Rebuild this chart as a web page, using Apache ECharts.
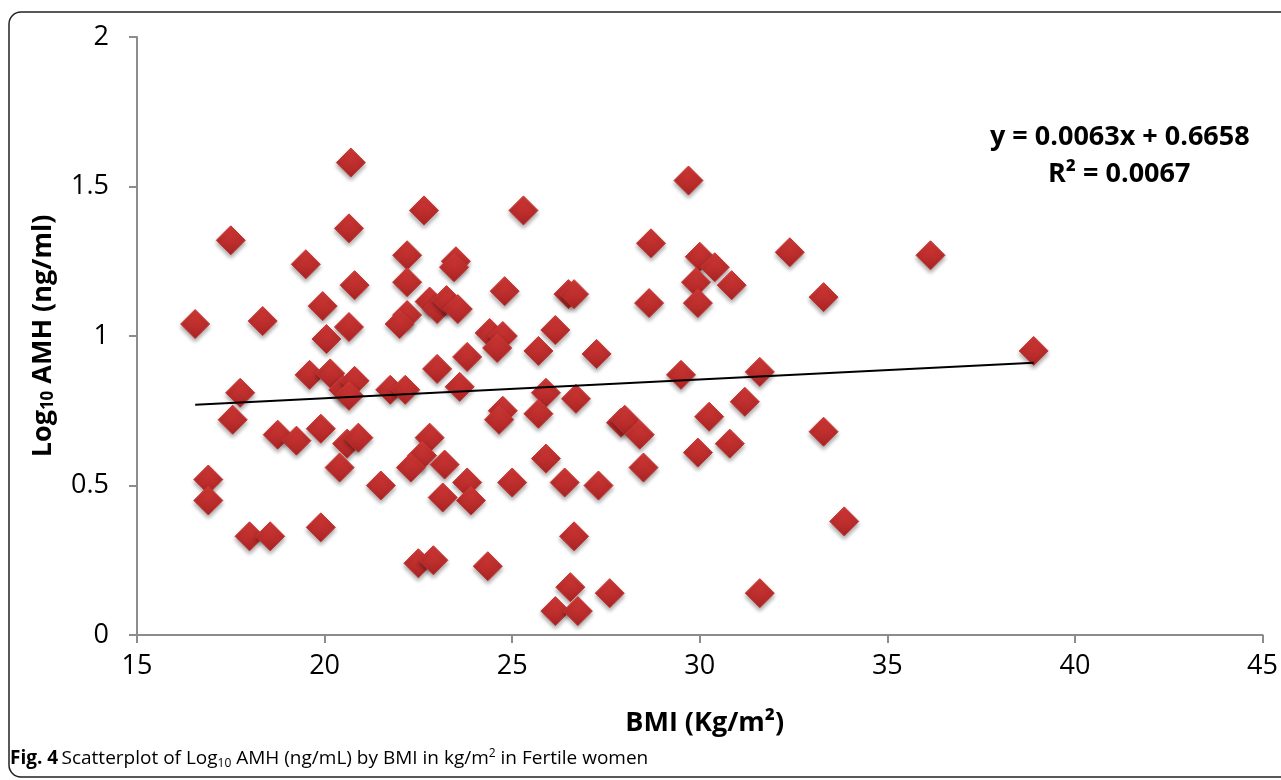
<!DOCTYPE html>
<html>
<head>
<meta charset="utf-8">
<title>Log10 AMH by BMI</title>
<script src="https://cdn.jsdelivr.net/npm/echarts@6/dist/echarts.min.js"></script>
<style>
  html, body { margin: 0; padding: 0; background: #fff; }
  #main { width: 1281px; height: 780px; }
</style>
</head>
<body>
<div id="main"></div>
<script>
// BMI (kg/m2) values
var bmi = [20.7, 29.7, 17.5, 22.65, 25.3, 20.65, 28.7, 32.4, 36.15, 19.5,
  22.2, 23.5, 23.45, 20.8, 22.2, 24.8, 19.95, 22.8, 23.0, 23.25,
  23.55, 22.2, 22.0, 16.55, 18.35, 20.65, 20.05, 24.4, 24.75, 24.6,
  23.0, 23.8, 23.6, 17.75, 19.6, 20.15, 20.5, 20.8, 20.65, 21.75,
  22.15, 17.55, 24.75, 24.65, 18.75, 19.25, 19.9, 20.6, 20.9, 20.4,
  22.8, 22.6, 22.3, 23.2, 23.8, 23.9, 23.15, 25.0, 21.5, 16.9,
  16.9, 18.0, 18.55, 19.9, 22.5, 22.9, 24.35, 29.5, 30.0, 30.4,
  29.9, 30.85, 29.95, 28.65, 33.3, 26.5, 26.65, 26.15, 25.7, 27.25,
  31.6, 25.9, 26.7, 25.7, 27.9, 28.0, 28.4, 30.25, 31.2, 29.95,
  30.8, 33.3, 25.9, 28.5, 26.4, 27.3, 33.85, 26.65, 26.55, 27.6,
  26.15, 26.75, 31.6, 38.9];
// Log10 AMH (ng/ml)
var logAmh = [1.58, 1.52, 1.32, 1.42, 1.42, 1.36, 1.31, 1.28, 1.27, 1.24,
  1.27, 1.25, 1.23, 1.17, 1.18, 1.15, 1.10, 1.115, 1.09, 1.12,
  1.09, 1.07, 1.04, 1.04, 1.05, 1.03, 0.99, 1.01, 1.0, 0.96,
  0.89, 0.93, 0.83, 0.81, 0.87, 0.875, 0.82, 0.85, 0.80, 0.82,
  0.82, 0.72, 0.75, 0.72, 0.67, 0.65, 0.69, 0.64, 0.66, 0.56,
  0.66, 0.60, 0.56, 0.57, 0.51, 0.45, 0.46, 0.51, 0.50, 0.52,
  0.45, 0.33, 0.33, 0.36, 0.24, 0.25, 0.23, 0.87, 1.265, 1.23,
  1.18, 1.17, 1.11, 1.11, 1.13, 1.14, 1.14, 1.02, 0.95, 0.94,
  0.88, 0.81, 0.79, 0.74, 0.71, 0.72, 0.67, 0.73, 0.78, 0.61,
  0.64, 0.68, 0.59, 0.56, 0.51, 0.50, 0.38, 0.33, 0.16, 0.14,
  0.08, 0.08, 0.14, 0.95];
// linear trend: slope, intercept
var trendCoef = [0.0063, 0.6658];
var xTicks = [15, 45, 5];   // min, max, step
var yTicks = [0, 2, 0.5];

var fontMain = "'Open Sans', sans-serif";

var points = bmi.map(function (x, i) { return [x, logAmh[i]]; });
var xMin = Math.min.apply(null, bmi), xMax = Math.max.apply(null, bmi);
var trendLine = [xMin, xMax].map(function (x) {
  return [x, trendCoef[0] * x + trendCoef[1]];
});

var myChart = echarts.init(document.getElementById('main'));

var option = {
  animation: false,
  grid: { left: 137, right: 18, top: 37, bottom: 145 },
  xAxis: {
    type: 'value',
    min: xTicks[0], max: xTicks[1], interval: xTicks[2],
    name: 'BMI (Kg/m²)',
    nameLocation: 'middle',
    nameGap: 75,
    nameTextStyle: { fontFamily: fontMain, fontWeight: 'bold', fontSize: 27, color: '#000', padding: [0, 0, 0, 10] },
    axisLine: { onZero: false, lineStyle: { color: '#8c8c8c', width: 2 } },
    axisTick: { show: true, length: 8, lineStyle: { color: '#8c8c8c', width: 2 } },
    axisLabel: { fontFamily: fontMain, fontSize: 27, color: '#000', margin: 18 },
    splitLine: { show: false }
  },
  yAxis: {
    type: 'value',
    min: yTicks[0], max: yTicks[1], interval: yTicks[2],
    name: '{b|Log}{s|10}{b| AMH (ng/ml)}',
    nameLocation: 'middle',
    nameGap: 80,
    nameRotate: 90,
    nameTextStyle: {
      rich: {
        b: { fontFamily: fontMain, fontWeight: 'bold', fontSize: 27, color: '#000' },
        s: { fontFamily: fontMain, fontWeight: 'bold', fontSize: 17, color: '#000', padding: [10, 0, 0, 0] }
      }
    },
    axisLine: { show: true, lineStyle: { color: '#8c8c8c', width: 2 } },
    axisTick: { show: true, length: 8, lineStyle: { color: '#8c8c8c', width: 2 } },
    axisLabel: {
      fontFamily: fontMain, fontSize: 27, color: '#000', margin: 28,
      formatter: function (v) { return String(v); }
    },
    splitLine: { show: false }
  },
  series: [
    {
      type: 'scatter',
      data: points,
      symbol: 'diamond',
      symbolSize: 29,
      itemStyle: {
        color: new echarts.graphic.LinearGradient(0, 0, 0, 1, [
          { offset: 0, color: '#d63a37' },
          { offset: 1, color: '#a82424' }
        ]),
        borderColor: '#c43331',
        borderWidth: 1,
        shadowBlur: 4,
        shadowOffsetY: 3,
        shadowColor: 'rgba(0,0,0,0.35)',
        opacity: 1
      },
      z: 2
    },
    {
      type: 'line',
      data: trendLine,
      symbol: 'none',
      lineStyle: { color: '#000', width: 2 },
      z: 3
    }
  ],
  graphic: [
    {
      type: 'rect',
      shape: { x: 9, y: 12, width: 1300, height: 765, r: 12 },
      style: { fill: 'none', stroke: '#222', lineWidth: 1.5 },
      z: 0, silent: true
    },
    {
      type: 'text',
      left: 990, top: 124,
      style: {
        text: 'y = 0.0063x + 0.6658',
        font: "bold 27px " + fontMain,
        fill: '#000'
      }
    },
    {
      type: 'text',
      left: 1048, top: 161,
      style: {
        text: 'R² = 0.0067',
        font: "bold 27px " + fontMain,
        fill: '#000'
      }
    },
    {
      type: 'text',
      left: 10, top: 748,
      style: {
        text: '{b|Fig. 4} {n|Scatterplot of Log}{sub|10}{n| AMH (ng/mL) by BMI in kg/m}{sup|2}{n| in Fertile women}',
        rich: {
          b: { fontFamily: fontMain, fontWeight: 'bold', fontSize: 19, color: '#1a1a1a' },
          n: { fontFamily: fontMain, fontSize: 19, color: '#1a1a1a' },
          sub: { fontFamily: fontMain, fontSize: 12, color: '#1a1a1a', padding: [9, 0, 0, 0] },
          sup: { fontFamily: fontMain, fontSize: 12, color: '#1a1a1a', padding: [0, 0, 10, 0] }
        }
      }
    }
  ]
};

myChart.setOption(option);
</script>
</body>
</html>
